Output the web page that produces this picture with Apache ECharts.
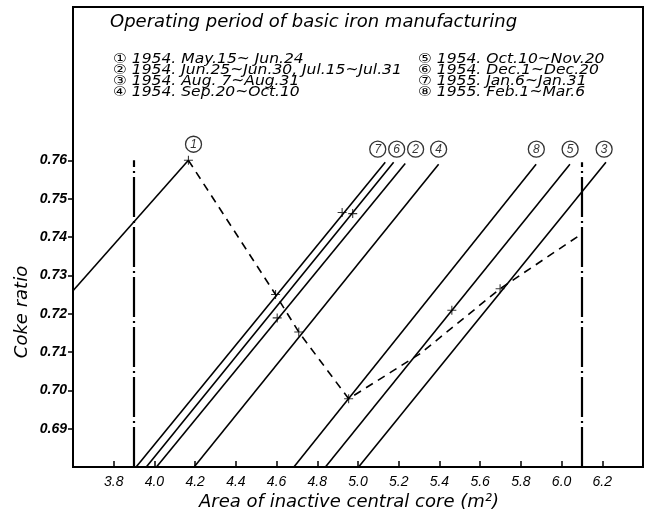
<!DOCTYPE html>
<html>
<head>
<meta charset="utf-8">
<script src="https://cdn.jsdelivr.net/npm/echarts@6/dist/echarts.min.js"></script>
<style>html,body{margin:0;padding:0;background:#fff;}#c{width:656px;height:514px;}</style>
</head>
<body>
<div id="c"></div>
<script>
const xTicks = [3.8, 4.0, 4.2, 4.4, 4.6, 4.8, 5.0, 5.2, 5.4, 5.6, 5.8, 6.0, 6.2];
const yTicks = [0.69, 0.70, 0.71, 0.72, 0.73, 0.74, 0.75, 0.76];

const titleText = 'Operating period of basic iron manufacturing';
const periodsLeft = ['① 1954. May.15~ Jun.24', '② 1954. Jun.25~Jun.30, Jul.15~Jul.31', '③ 1954. Aug. 7~Aug.31', '④ 1954. Sep.20~Oct.10'];
const periodsRight = ['⑤ 1954. Oct.10~Nov.20', '⑥ 1954. Dec.1~Dec.20', '⑦ 1955. Jan.6~Jan.31', '⑧ 1955. Feb.1~Mar.6'];

const lineIds = ['1', '7', '6', '2', '4', '8', '5', '3'];
const lineStart = [[3.6, 0.726], [3.91, 0.68], [3.96, 0.68], [4.01, 0.68], [4.195, 0.68], [4.685, 0.68], [4.84, 0.68], [5.003, 0.68]];
const lineEnd = [[4.167, 0.76], [5.134, 0.7595], [5.175, 0.7595], [5.232, 0.7592], [5.396, 0.759], [5.875, 0.759], [6.041, 0.759], [6.218, 0.7595]];
const labelPos = [[4.192, 0.7642], [5.097, 0.7629], [5.19, 0.7629], [5.283, 0.7629], [5.396, 0.7629], [5.876, 0.7629], [6.042, 0.7629], [6.209, 0.7629]];

const dashedPath = [[4.167, 0.76], [4.595, 0.725], [4.709, 0.7152], [4.954, 0.6978], [5.175, 0.7052], [5.306, 0.7096], [5.698, 0.7265], [6.09, 0.7405]];
const crossPoints = [[4.167, 0.76], [4.922, 0.7464], [4.974, 0.7461], [4.595, 0.725], [4.603, 0.7189], [4.709, 0.7152], [4.954, 0.6978], [5.461, 0.7209], [5.698, 0.7265]];

const boundaryX = [3.9, 6.1];
const boundaryTop = [0.76, 0.7595];

const FONT = '"Liberation Sans", "Noto Sans CJK JP", sans-serif';
const FONT2 = '"DejaVu Sans", "Noto Sans CJK JP", sans-serif';

const chart = echarts.init(document.getElementById('c'), null, { renderer: 'canvas' });

const graphics = [];
graphics.push({ type: 'text', x: 110, y: 22.5, style: { text: titleText, fontFamily: FONT2, fontStyle: 'italic', fontSize: 18, fill: '#000', textVerticalAlign: 'middle' } });
const rowY = [59.5, 70.8, 81.7, 92.5];
periodsLeft.forEach((t, i) => graphics.push({ type: 'text', x: 113, y: rowY[i], scaleX: 1.15, style: { text: t, fontFamily: FONT2, fontStyle: 'italic', fontSize: 13.5, fill: '#000', textVerticalAlign: 'middle' } }));
periodsRight.forEach((t, i) => graphics.push({ type: 'text', x: 418, y: rowY[i], scaleX: 1.15, style: { text: t, fontFamily: FONT2, fontStyle: 'italic', fontSize: 13.5, fill: '#000', textVerticalAlign: 'middle' } }));
graphics.push({ type: 'text', x: 22, y: 312, rotation: Math.PI / 2, style: { text: 'Coke ratio', fontFamily: FONT2, fontStyle: 'italic', fontSize: 18, fill: '#000', textAlign: 'center', textVerticalAlign: 'middle' } });
graphics.push({ type: 'text', x: 349, y: 502, style: { text: 'Area of inactive central core (m²)', fontFamily: FONT2, fontStyle: 'italic', fontSize: 18, fill: '#000', textAlign: 'center', textVerticalAlign: 'middle' } });

const option = {
  animation: false,
  backgroundColor: '#fff',
  grid: { left: 73, top: 7, width: 570, height: 460, show: true, borderColor: '#000', borderWidth: 2, backgroundColor: 'transparent' },
  xAxis: {
    type: 'value', min: 3.6, max: 6.4,
    axisLine: { show: true, lineStyle: { color: '#000', width: 2 } },
    axisTick: { show: true, inside: true, length: 6, customValues: xTicks, lineStyle: { color: '#000', width: 1.5 } },
    axisLabel: { customValues: xTicks, formatter: v => v.toFixed(1), color: '#000', fontFamily: FONT, fontStyle: 'italic', fontSize: 14, margin: 8 },
    splitLine: { show: false }
  },
  yAxis: {
    type: 'value', min: 0.68, max: 0.80,
    axisLine: { show: true, lineStyle: { color: '#000', width: 2 } },
    axisTick: { show: true, inside: false, length: 5, customValues: yTicks, lineStyle: { color: '#000', width: 1.5 } },
    axisLabel: { customValues: yTicks, formatter: v => v.toFixed(2), color: '#000', fontFamily: FONT, fontStyle: 'italic', fontWeight: 'bold', fontSize: 14, margin: 6 },
    splitLine: { show: false }
  },
  graphic: graphics,
  series: [
    {
      type: 'lines', coordinateSystem: 'cartesian2d', silent: true,
      data: lineStart.map((s, i) => ({ name: lineIds[i], coords: [s, lineEnd[i]] })),
      lineStyle: { color: '#000', width: 1.6, opacity: 1 }
    },
    {
      type: 'lines', coordinateSystem: 'cartesian2d', silent: true,
      data: boundaryX.map((x, i) => ({ coords: [[x, 0.68], [x, boundaryTop[i]]] })),
      lineStyle: { color: '#000', width: 2.2, opacity: 1, type: [40, 4, 2, 4] }
    },
    {
      type: 'line', data: dashedPath, symbol: 'none', silent: true,
      lineStyle: { color: '#000', width: 1.6, type: [8, 6] }
    },
    {
      type: 'scatter', data: crossPoints, silent: true,
      symbol: 'path://M0,4.4H10V5.6H0Z M4.4,0H5.6V10H4.4Z', symbolSize: 9,
      itemStyle: { color: '#000' }
    },
    {
      type: 'scatter', silent: true,
      data: labelPos.map((p, i) => ({ value: p, name: lineIds[i] })),
      symbol: 'circle', symbolSize: 16,
      itemStyle: { color: '#fff', borderColor: '#000', borderWidth: 1.3 },
      label: { show: true, position: 'inside', formatter: p => p.name, color: '#000', fontFamily: FONT, fontStyle: 'italic', fontSize: 12 },
      z: 5
    }
  ]
};
chart.setOption(option);
</script>
</body>
</html>
